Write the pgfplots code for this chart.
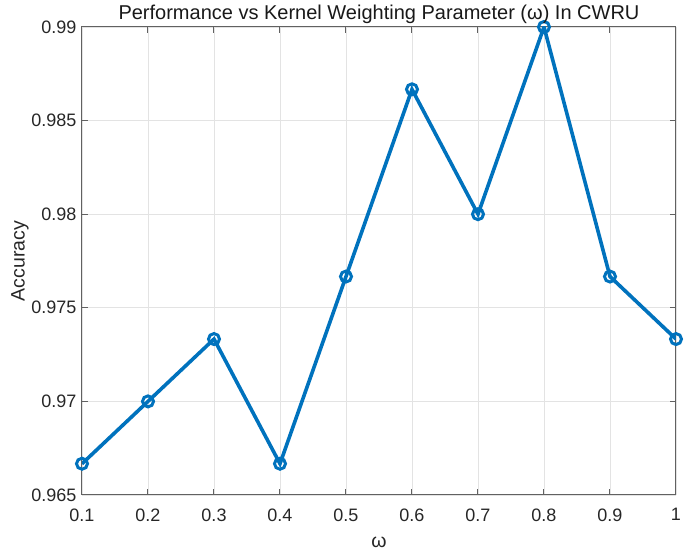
\documentclass[border=0pt]{standalone}
\usepackage{fontspec}
\setmainfont{Liberation Sans}
\usepackage{pgfplots}
\pgfplotsset{compat=1.18}
\definecolor{mblue}{rgb}{0,0.447,0.741}
\definecolor{axgray}{rgb}{0.38,0.38,0.38}
\definecolor{gridgray}{rgb}{0.89,0.89,0.89}
\begin{document}
\begin{tikzpicture}[x=1pt,y=1pt]
\begin{axis}[
  name=ax,
  scale only axis,
  width=594pt, height=468pt,
  xmin=0.1, xmax=1, ymin=0.965, ymax=0.99,
  xtick={0.1,0.2,0.3,0.4,0.5,0.6,0.7,0.8,0.9,1},
  xticklabels={0.1,0.2,0.3,0.4,0.5,0.6,0.7,0.8,0.9,1},
  ytick={0.965,0.97,0.975,0.98,0.985,0.99},
  yticklabels={0.965,0.97,0.975,0.98,0.985,0.99},
  grid=major,
  major grid style={gridgray, line width=0.9pt},
  axis line style={axgray, line width=1pt},
  tick style={axgray, line width=1pt},
  major tick length=6pt,
  tick align=inside,
  ticklabel style={font=\fontsize{18}{21}\selectfont, text=black!85},
  xticklabel style={yshift=-10pt},
  yticklabel style={xshift=-2pt},
  title={Performance vs Kernel Weighting Parameter (ω) In CWRU},
  title style={font=\fontsize{20}{23}\selectfont, yshift=-6pt, text=black!90},
  xlabel={ω}, ylabel={Accuracy},
  label style={font=\fontsize{19.5}{22}\selectfont, text=black!85},
  xlabel style={yshift=-9pt},
  ylabel style={yshift=-4pt},
]
\addplot[mblue, line width=3.6pt, mark=o, mark size=5.5pt, mark options={line width=3pt}]
coordinates {
(0.1,0.96667) (0.2,0.97) (0.3,0.97333) (0.4,0.96667) (0.5,0.97667)
(0.6,0.98667) (0.7,0.98) (0.8,0.99) (0.9,0.97667) (1.0,0.97333)
};
\end{axis}
\pgfresetboundingbox
\path (ax.south west) ++(-82pt,-56pt) rectangle ++(685pt,551pt);
\end{tikzpicture}
\end{document}
